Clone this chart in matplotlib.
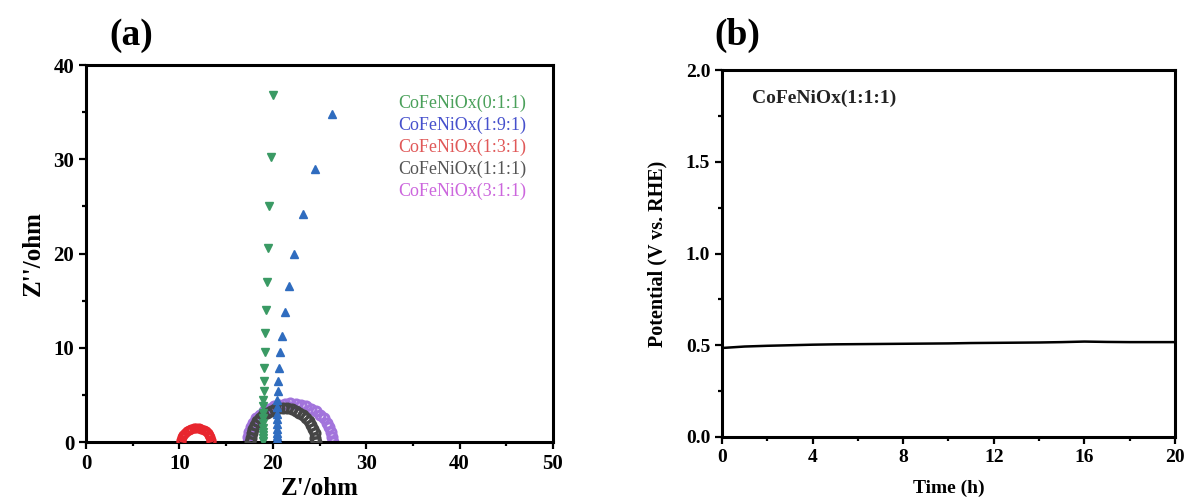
import matplotlib
matplotlib.use("Agg")
import matplotlib.pyplot as plt
from matplotlib.ticker import MultipleLocator

plt.rcParams['font.family'] = ['Liberation Serif', 'DejaVu Serif']

# (a) Nyquist data
labels = ['CoFeNiOx(0:1:1)', 'CoFeNiOx(1:9:1)', 'CoFeNiOx(1:3:1)',
          'CoFeNiOx(1:1:1)', 'CoFeNiOx(3:1:1)']

x_011 = [20.0, 19.8, 19.6, 19.5, 19.4, 19.3, 19.2, 19.2, 19.1, 19.1, 19.1,
         19.0, 19.0, 19.0, 19.0, 19.0, 19.0, 19.0, 19.0, 19.0, 19.0]
y_011 = [36.8, 30.2, 25.0, 20.6, 17.0, 14.0, 11.6, 9.5, 7.8, 6.5, 5.4,
         4.5, 3.8, 3.1, 2.5, 2.0, 1.5, 1.1, 0.7, 0.4, 0.1]

x_191 = [26.3, 24.5, 23.2, 22.3, 21.7, 21.3, 21.0, 20.8, 20.7, 20.6, 20.6,
         20.5, 20.5, 20.5, 20.5, 20.5, 20.5, 20.5, 20.5, 20.5, 20.5]
y_191 = [34.8, 29.0, 24.2, 20.0, 16.6, 13.8, 11.3, 9.5, 7.8, 6.5, 5.4,
         4.5, 3.7, 3.0, 2.4, 1.9, 1.4, 1.0, 0.6, 0.3, 0.1]

x_131 = [10.20, 10.22, 10.30, 10.41, 10.57, 10.77, 11.00, 11.25, 11.52, 11.80,
         12.08, 12.35, 12.60, 12.83, 13.03, 13.19, 13.30, 13.38, 13.40]
y_131 = [0, 0.26, 0.51, 0.75, 0.96, 1.15, 1.30, 1.41, 1.48, 1.50,
         1.48, 1.41, 1.30, 1.15, 0.96, 0.75, 0.51, 0.26, 0]

x_111 = [17.60, 17.63, 17.72, 17.87, 18.07, 18.32, 18.63, 18.97, 19.35, 19.76,
         20.19, 20.64, 21.10, 21.56, 22.01, 22.44, 22.85, 23.23, 23.57, 23.88,
         24.13, 24.33, 24.48, 24.57, 24.60]
y_111 = [0, 0.47, 0.93, 1.38, 1.80, 2.19, 2.55, 2.86, 3.12, 3.33, 3.48, 3.57,
         3.60, 3.57, 3.48, 3.33, 3.12, 2.86, 2.55, 2.19, 1.80, 1.38, 0.93, 0.47, 0]

x_311 = [17.30, 17.34, 17.46, 17.65, 17.91, 18.24, 18.63, 19.08, 19.57, 20.11,
         20.67, 21.26, 21.85, 22.44, 23.03, 23.59, 24.13, 24.62, 25.07, 25.46,
         25.79, 26.05, 26.24, 26.36, 26.40]
y_311 = [0, 0.54, 1.06, 1.57, 2.05, 2.50, 2.90, 3.25, 3.55, 3.79, 3.96, 4.06,
         4.10, 4.06, 3.96, 3.79, 3.55, 3.25, 2.90, 2.50, 2.05, 1.57, 1.06, 0.54, 0]

# (b) stability data
time_h = list(range(0, 21))
potential = [0.485, 0.493, 0.497, 0.500, 0.503, 0.505, 0.506, 0.507, 0.508,
             0.509, 0.510, 0.512, 0.513, 0.514, 0.515, 0.517, 0.520, 0.518,
             0.517, 0.517, 0.517]

fig = plt.figure(figsize=(11.9, 5.04), dpi=100)
ax1 = fig.add_axes([0.0723, 0.123, 0.3924, 0.748])
ax2 = fig.add_axes([0.6067, 0.133, 0.3807, 0.728])


def style_axes(ax, fs):
    for s in ax.spines.values():
        s.set_linewidth(2.2)
    ax.tick_params(which='both', direction='out', top=False, right=False,
                   width=1.6, labelsize=fs)
    ax.tick_params(which='major', length=5)
    ax.tick_params(which='minor', length=3)
    for lab in ax.get_xticklabels() + ax.get_yticklabels():
        lab.set_fontweight('bold')


# panel (a)
ring = dict(mfc='none', mew=2.2, ms=6.5)
ax1.plot(x_311, y_311, 'o', mec='#a274dc', zorder=2, **ring)
ax1.plot(x_111, y_111, 'o', mec='#454545', zorder=3, **ring)
ax1.plot(x_131, y_131, 'o', mfc='none', mec='#e8262e', mew=1.8, ms=5.5, zorder=3)
ax1.plot(x_191, y_191, '^', color='#2f6cbf', ms=6, zorder=4)
ax1.plot(x_011, y_011, 'v', color='#3a9a64', ms=6, zorder=5)
ax1.set_xlim(0, 50)
ax1.set_ylim(0, 40)
ax1.xaxis.set_major_locator(MultipleLocator(10))
ax1.xaxis.set_minor_locator(MultipleLocator(5))
ax1.yaxis.set_major_locator(MultipleLocator(10))
ax1.yaxis.set_minor_locator(MultipleLocator(5))
style_axes(ax1, 15)
ax1.set_xlabel("Z'/ohm", fontsize=18, fontweight='bold', labelpad=2)
ax1.set_ylabel("Z''/ohm", fontsize=18, fontweight='bold', labelpad=6)

text_colors = ['#4aa05a', '#4650cc', '#e05858', '#555555', '#cc66dd']
for i, (lab, c) in enumerate(zip(labels, text_colors)):
    ax1.text(0.668, 0.899 - i * 0.0584, lab, color=c, fontsize=13,
             transform=ax1.transAxes, va='center', ha='left')

fig.text(0.092, 0.93, '(a)', fontsize=27, fontweight='bold', va='center')

# panel (b)
ax2.plot(time_h, potential, color='black', lw=1.8)
ax2.set_xlim(0, 20)
ax2.set_ylim(0, 2.0)
ax2.xaxis.set_major_locator(MultipleLocator(4))
ax2.xaxis.set_minor_locator(MultipleLocator(2))
ax2.yaxis.set_major_locator(MultipleLocator(0.5))
ax2.yaxis.set_minor_locator(MultipleLocator(0.25))
style_axes(ax2, 14)
ax2.set_xlabel('Time (h)', fontsize=14, fontweight='bold', labelpad=10)
ax2.set_ylabel('Potential (V vs. RHE)', fontsize=14.5, fontweight='bold', labelpad=13)
ax2.text(0.066, 0.924, 'CoFeNiOx(1:1:1)', fontsize=14, fontweight='bold',
         transform=ax2.transAxes, va='center', ha='left', color='#222222')

fig.text(0.6, 0.93, '(b)', fontsize=27, fontweight='bold', va='center')

fig.savefig('out.png', dpi=100)
